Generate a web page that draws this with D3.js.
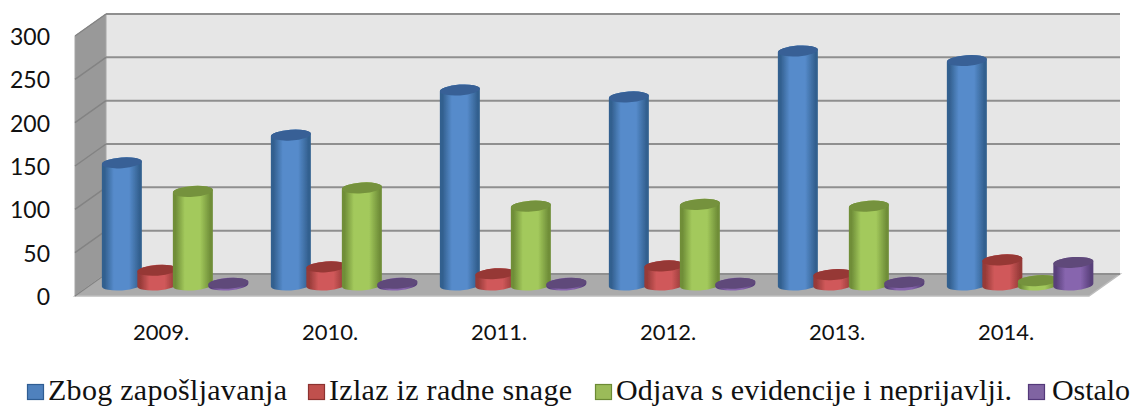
<!DOCTYPE html>
<html><head><meta charset="utf-8">
<script src="https://cdn.jsdelivr.net/npm/d3@7/dist/d3.min.js"></script>
<style>html,body{margin:0;padding:0;background:#fff}svg{display:block}</style>
</head><body><svg id="c" width="1134" height="407"></svg>
<script>
const categories = ["2009.","2010.","2011.","2012.","2013.","2014."];
const seriesNames = ["Zbog zapošljavanja","Izlaz iz radne snage","Odjava s evidencije i neprijavlji.","Ostalo"];
const zaposljavanje = [141,173,225,217,270,259];
const izlaz = [17,21,13,22,12,29];
const odjava = [108,112,91,93,91,5];
const ostalo = [2,2,2,2,3,26];
const yTicks = [0,50,100,150,200,250,300];

const seriesValues = [zaposljavanje,izlaz,odjava,ostalo];
const palette = [
 {mid:"#568bcb",edge:"#33608f",top:"#376196",leg:"#4f81bd",legS:"#2f5d93"},
 {mid:"#d0595a",edge:"#963a38",top:"#963735",leg:"#c0504d",legS:"#8c3230"},
 {mid:"#a3c95c",edge:"#6f8e38",top:"#75923c",leg:"#9bbb59",legS:"#6c8a34"},
 {mid:"#8765ae",edge:"#58407a",top:"#5f497a",leg:"#8064a2",legS:"#54397a"}
];
const legendX = [27,308,595,1028];
const legendT = [48,329,616,1052];
const legendW = [239,243,396,78];

const svg = d3.select("#c");
const y = d3.scaleLinear().domain([0,300]).range([274,14]);
const x = d3.scaleBand().domain(categories).range([90.6,1104.6]);
const inner = d3.scaleBand().domain(d3.range(4)).range([0,142]);
const dx=-31, dy=22, wallR=1120, wallL=106;
const defs = svg.append("defs");
palette.forEach((p,i)=>{
  const g=defs.append("linearGradient").attr("id","g"+i);
  [[0,p.edge],[.07,p.edge],[.3,p.mid],[.68,p.mid],[.94,p.edge],[1,p.edge]].forEach(s=>
    g.append("stop").attr("offset",s[0]).attr("stop-color",s[1]));
});
const f=defs.append("filter").attr("id","soft");
f.append("feGaussianBlur").attr("stdDeviation",0.45);

const root=svg.append("g").attr("filter","url(#soft)");
// walls
root.append("rect").attr("x",wallL).attr("y",y(300)).attr("width",wallR-wallL).attr("height",y(0)-y(300)).attr("fill","#e6e6e6");
root.append("path").attr("d",`M${wallL+dx},${y(300)+dy}L${wallL},${y(300)}L${wallL},${y(0)}L${wallL+dx},${y(0)+dy}Z`).attr("fill","#999").attr("stroke","#a6a6a6");
root.append("path").attr("d",`M${wallL+dx},${y(0)+dy}L${wallL},${y(0)}L${wallR},${y(0)}L${wallR+dx},${y(0)+dy}Z`).attr("fill","#ababab").attr("stroke","#bdbdbd").attr("stroke-width",1.5);
// grid
yTicks.forEach(t=>{
  root.append("line").attr("x1",wallL).attr("x2",wallR).attr("y1",y(t)).attr("y2",y(t)).attr("stroke","#8f8f8f").attr("stroke-width",2);
  root.append("line").attr("x1",wallL).attr("x2",wallL+dx).attr("y1",y(t)).attr("y2",y(t)+dy).attr("stroke","#838383").attr("stroke-width",1.5);
});
// cylinders
const rx=20, ry=5.4, tilt=-4;
const baseY=11;
categories.forEach((c,ci)=>{
  seriesValues.forEach((vals,si)=>{
    const cx=x(c)+x.bandwidth()/2-71+inner(si)+inner.bandwidth()/2;
    const by=y(0)+baseY, ty=y(vals[ci])+baseY;
    const sin=Math.sin(tilt*Math.PI/180)*rx;
    const L=cx-rx,R=cx+rx;
    const g=root.append("g");
    g.append("path").attr("d",
      `M${L},${ty-sin}A${rx},${ry} ${tilt} 0 1 ${R},${ty+sin}L${R},${by+sin}A${rx},${ry} ${tilt} 0 1 ${L},${by-sin}Z`)
      .attr("fill",`url(#g${si})`);
    g.append("ellipse").attr("cx",cx).attr("cy",ty).attr("rx",rx).attr("ry",ry)
      .attr("transform",`rotate(${tilt} ${cx} ${ty})`).attr("fill",palette[si].top);
  });
});
// axis labels
const yAxis=d3.scaleLinear().domain([0,300]).range([y(0)+dy,y(300)+dy]);
const ax=svg.append("g").attr("transform","translate(50,1)")
  .call(d3.axisLeft(yAxis).tickValues(yTicks).tickSize(0).tickPadding(0).tickFormat(d3.format("d")));
ax.select(".domain").remove();
ax.selectAll("text").attr("font-family","Lato").attr("font-size",23).attr("fill","#111");
const xa=svg.append("g").attr("transform","translate(-14,340)");
xa.call(d3.axisBottom(x).tickSize(0).tickPadding(0));
xa.select(".domain").remove();
xa.selectAll("text").attr("font-family","Lato").attr("font-size",22).attr("fill","#111").attr("dy",0);
// legend
seriesNames.forEach((n,i)=>{
  svg.append("rect").attr("x",legendX[i]+.5).attr("y",384.5).attr("width",16).attr("height",15)
    .attr("fill",palette[i].leg).attr("stroke",palette[i].legS).attr("stroke-width",1.2);
  svg.append("text").attr("x",legendT[i]).attr("y",400).text(n)
    .attr("font-family","'Liberation Serif'").attr("font-size",30).attr("fill","#111")
    .attr("textLength",legendW[i]).attr("lengthAdjust","spacing");
});
</script></body></html>
